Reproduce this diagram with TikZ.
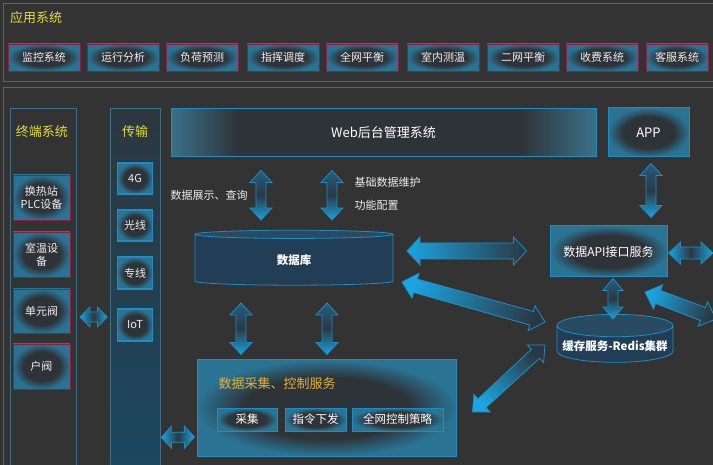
\documentclass[tikz,border=0pt]{standalone}
\usepackage{fontspec}
\setmainfont{Noto Sans CJK SC}
\usetikzlibrary{calc,shapes.geometric}

\definecolor{bgdark}{HTML}{333333}
\definecolor{panelline}{HTML}{3D6F87}
\definecolor{titleyellow}{HTML}{E2DC3A}
\definecolor{titlegold}{HTML}{E0B23C}
\definecolor{boxred}{HTML}{8E1D48}
\definecolor{boxblue}{HTML}{1D8DC2}
\definecolor{glowteal}{HTML}{2A7393}
\definecolor{glowdark}{HTML}{2E3338}
\definecolor{webedge}{HTML}{3A7189}
\definecolor{arrbright}{HTML}{1BA4DF}
\definecolor{arrdark}{HTML}{2A3844}
\definecolor{arrmid}{HTML}{245F80}
\definecolor{dbnavy}{HTML}{223E56}
\definecolor{dbtop}{HTML}{294A63}
\definecolor{textlight}{HTML}{EEEEEE}

\pgfdeclareradialshading{glow}{\pgfpoint{0bp}{0bp}}{color(0bp)=(glowdark); color(16bp)=(glowdark); color(25bp)=(glowteal); color(50bp)=(glowteal)}
\pgfdeclarehorizontalshading{webband}{100bp}{color(0bp)=(webedge); color(25bp)=(webedge); color(33bp)=(glowdark); color(66bp)=(glowdark); color(75bp)=(webedge); color(100bp)=(webedge)}

\tikzset{
  fat head/.store in=\fatHead, fat wide/.store in=\fatWide,
  fat narrow/.store in=\fatNarrow,
  fat head=12pt, fat wide=11pt, fat narrow=5pt,
  fat/.style={draw=boxblue, line width=0.8pt, shade,
    top color=arrmid, bottom color=arrbright, middle color=arrdark,
    to path={
      -- ($(\tikztostart)!\fatHead!(\tikztotarget)!\fatWide!90:(\tikztotarget)$)
      -- ($(\tikztostart)!\fatHead!(\tikztotarget)!\fatNarrow!90:(\tikztotarget)$)
      -- ($(\tikztotarget)!\fatHead!(\tikztostart)!\fatNarrow!-90:(\tikztostart)$)
      -- ($(\tikztotarget)!\fatHead!(\tikztostart)!\fatWide!-90:(\tikztostart)$)
      -- (\tikztotarget)
      -- ($(\tikztotarget)!\fatHead!(\tikztostart)!\fatWide!90:(\tikztostart)$)
      -- ($(\tikztotarget)!\fatHead!(\tikztostart)!\fatNarrow!90:(\tikztostart)$)
      -- ($(\tikztostart)!\fatHead!(\tikztotarget)!\fatNarrow!-90:(\tikztotarget)$)
      -- ($(\tikztostart)!\fatHead!(\tikztotarget)!\fatWide!-90:(\tikztotarget)$)
      -- cycle}},
}

\begin{document}
\begin{tikzpicture}[x=1pt, y=-1pt,
  appbox/.style={draw=boxred, line width=0.8pt, shade, shading=glow,
    minimum width=72pt, minimum height=27pt, inner sep=1pt,
    text=textlight, font=\fontsize{11pt}{13pt}\selectfont},
  devbox/.style={appbox, minimum width=57pt, minimum height=45pt,
    align=center},
  linkbox/.style={appbox, draw=boxblue, line width=1.2pt,
    minimum width=35pt, minimum height=31pt},
  svcbox/.style={draw=boxblue, line width=1pt, shade, shading=glow,
    text=white, font=\fontsize{12pt}{14pt}\selectfont},
  subbox/.style={svcbox, minimum height=23pt, inner sep=1pt,
    font=\fontsize{11.5pt}{13pt}\selectfont},
  store/.style={cylinder, shape border rotate=90, aspect=0.2,
    draw=boxblue, line width=0.8pt, cylinder uses custom fill,
    cylinder body fill=dbnavy, cylinder end fill=dbtop, text=white,
    font=\bfseries\fontsize{11.5pt}{13pt}\selectfont},
  title/.style={text=titleyellow, font=\fontsize{13pt}{15pt}\selectfont},
  note/.style={text=textlight, font=\fontsize{11pt}{13pt}\selectfont},
  panel/.style={draw=panelline, line width=0.8pt}]

\fill[bgdark] (0,0) rectangle (713,465);
\useasboundingbox (0,0) rectangle (713,465);

% panels
\draw[panel] (3,3) rectangle (716,81);
\draw[panel] (3,87) rectangle (716,470);
\node[panel, minimum width=66pt, minimum height=362pt, inner sep=0] (tmcol) at (43,289) {};
\node[panel, top color=glowdark!90!arrmid, bottom color=arrmid!75!black,
  minimum width=50pt, minimum height=362pt, inner sep=0] (tcol) at (135,289) {};

% application systems
\node[title] (apptitle) at (36,18) {应用系统};
\foreach \nm/\x/\txt in {jk/44/监控系统, yx/123/运行分析, fh/202/负荷预测,
    zh/283/指挥调度, qw/362/全网平衡, sn/443/室内测温, ew/523/二网平衡,
    sf/602/收费系统}
  \node[appbox] (\nm) at (\x,57.5) {\txt};
\node[appbox, minimum width=62pt] (kf) at (677,57.5) {客服系统};

% terminals and transport
\node[title] (tmtitle) at (42,132) {终端系统};
\node[title] (ttitle) at (135,132) {传输};
\node[devbox] (plc) at (41.5,197.5) {换热站\\PLC设备};
\node[devbox] (shiwen) at (41.5,254.5) {室温设\\备};
\node[devbox, minimum height=44pt] (danyuan) at (41.5,311) {单元阀};
\node[devbox] (hufa) at (41.5,366.5) {户阀};
\node[linkbox] (g4) at (135,178.5) {4G};
\node[linkbox] (gx) at (135,225.5) {光线};
\node[linkbox, minimum height=32pt] (zx) at (135,273) {专线};
\node[linkbox, minimum height=32pt] (iot) at (135,325) {IoT};

% services
\node[draw=boxblue, line width=1pt, shade, shading=webband, text=white,
  minimum width=425pt, minimum height=48pt,
  font=\fontsize{13pt}{15pt}\selectfont] (web) at (383.5,133) {Web后台管理系统};
\node[svcbox, minimum width=81pt, minimum height=49pt,
  font=\fontsize{13pt}{15pt}\selectfont] (app) at (648.5,132.5) {APP};
\node[svcbox, minimum width=117pt, minimum height=51pt] (api) at (608.5,251.5) {数据API接口服务};
\node[store, minimum width=198pt, minimum height=55pt] (db) at (294,260.5) {数据库};
\node[store, minimum width=116pt, minimum height=48pt] (redis) at (615,346) {缓存服务-Redis集群};
\node[svcbox, minimum width=259pt, minimum height=96pt] (collect) at (326.5,408) {};
\node[text=titlegold, font=\fontsize{13pt}{15pt}\selectfont, anchor=west]
  (ctitle) at (215,384) {数据采集、控制服务};
\node[subbox, minimum width=60pt] (cj) at (247,419.5) {采集};
\node[subbox, minimum width=61pt] (zl) at (315.5,419.5) {指令下发};
\node[subbox, minimum width=91pt] (cl) at (397.5,419.5) {全网控制策略};

\node[note] (show) at (209,195) {数据展示、查询};
\node[note, anchor=west] (base) at (351,182) {基础数据维护};
\node[note, anchor=west] (conf) at (351,205) {功能配置};

\coordinate (outA) at (713,253);
\coordinate (outB) at (716,319);

% connectors
\path[fat] ($(web.south)+(-122.5,13)$) to ($(db.center)+(-33,-40.5)$);
\path[fat] ($(web.south)+(-51.5,13)$) to ($(db.center)+(38,-40.5)$);
\path[fat] ($(app.south)+(2.5,6)$) to ($(api.north)+(42.5,-8)$);
\path[fat, fat head=13pt, fat wide=14pt, fat narrow=8pt,
  left color=arrbright, right color=arrdark]
  ($(db.center)+(113,-9.5)$) to ($(api.west)+(-23,-0.5)$);
\path[fat, fat head=14pt, fat wide=13pt, fat narrow=7pt,
  top color=arrbright, bottom color=arrdark, shading angle=74]
  ($(db.center)+(108,21.5)$) to ($(redis.center)+(-70,-24)$);
\path[fat, fat wide=10pt] ($(api.south)+(4.5,1)$) to ($(redis.center)+(-2,-27)$);
\path[fat, fat narrow=6pt, left color=arrbright, right color=arrbright,
  middle color=arrdark] ($(api.east)+(1,1.5)$) to (outA);
\path[fat, fat head=14pt, fat wide=13pt, fat narrow=7pt,
  top color=arrbright, bottom color=arrdark, shading angle=70]
  ($(redis.center)+(30,-54)$) to (outB);
\path[fat, fat head=13pt, fat wide=12pt, fat narrow=6pt,
  top color=arrbright, bottom color=arrdark, shading angle=132]
  ($(collect.east)+(16,4)$) to ($(redis.center)+(-70,-1)$);
\path[fat] ($(db.center)+(-53,42.5)$) to ($(collect.north)+(-85.5,-5)$);
\path[fat] ($(db.center)+(33,42.5)$) to ($(collect.north)+(0.5,-5)$);
\path[fat, fat head=10pt, fat wide=10pt, left color=arrbright,
  right color=arrbright, middle color=arrdark]
  ($(danyuan.east)+(9.5,6)$) to ($(iot.west)+(-9.5,-8)$);
\path[fat, fat head=10pt, left color=arrbright, right color=arrbright,
  middle color=arrdark]
  ($(tcol.south east)+(1,-33)$) to ($(collect.west)+(-2,29)$);
\end{tikzpicture}
\end{document}
